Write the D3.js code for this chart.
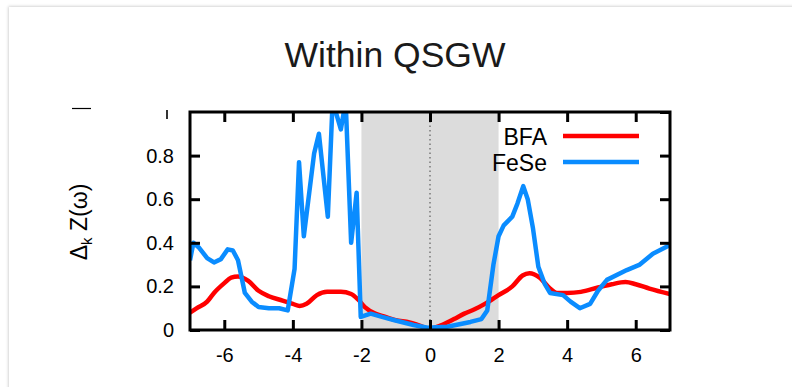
<!DOCTYPE html>
<html><head><meta charset="utf-8">
<script src="https://cdn.jsdelivr.net/npm/d3@7"></script>
<style>html,body{margin:0;padding:0;background:#fff;}svg{display:block;}</style>
</head><body>
<script>
// ---- data ----
const title = "Within QSGW";
const seriesNames = ["BFA", "FeSe"];
const seriesColors = ["#ff0000", "#0a8cff"];
const bfaX = [-7,-6.8,-6.5,-6.3,-6,-5.8,-5.6,-5.3,-5,-4.7,-4.3,-4,-3.8,-3.6,-3.3,-3,-2.6,-2.3,-2.1,-1.9,-1.6,-1.3,-1,-0.6,-0.3,0,0.3,0.7,1,1.3,1.6,2,2.4,2.7,2.9,3.2,3.5,3.7,4,4.4,4.9,5.3,5.7,6,6.4,7];
const bfaY = [0.08,0.10,0.13,0.17,0.215,0.24,0.245,0.225,0.18,0.155,0.135,0.12,0.11,0.12,0.16,0.175,0.175,0.165,0.14,0.105,0.075,0.06,0.045,0.035,0.02,0.005,0.02,0.05,0.075,0.095,0.12,0.16,0.2,0.25,0.26,0.24,0.19,0.17,0.17,0.175,0.195,0.21,0.22,0.21,0.19,0.165];
const feseX = [-7,-6.9,-6.75,-6.5,-6.3,-6.1,-5.9,-5.75,-5.6,-5.4,-5.2,-5.0,-4.7,-4.4,-4.15,-3.95,-3.82,-3.68,-3.38,-3.24,-2.98,-2.84,-2.6,-2.46,-2.3,-2.14,-2.02,-1.73,-1.4,-1.06,-0.48,-0.07,0.5,1.18,1.5,1.67,1.85,2.0,2.15,2.4,2.55,2.72,2.85,3.0,3.16,3.35,3.5,3.88,4.1,4.37,4.67,4.9,5.16,5.74,6.12,6.5,7];
const feseY = [0.32,0.40,0.38,0.33,0.31,0.325,0.37,0.365,0.32,0.17,0.13,0.105,0.10,0.10,0.09,0.28,0.77,0.43,0.81,0.90,0.52,1.05,0.92,1.05,0.40,0.63,0.06,0.075,0.06,0.046,0.023,0.01,0.015,0.037,0.05,0.09,0.30,0.43,0.48,0.52,0.58,0.66,0.60,0.47,0.29,0.21,0.17,0.16,0.13,0.10,0.12,0.18,0.23,0.275,0.30,0.35,0.39];
const xTicks = [-6,-4,-2,0,2,4,6];
const yTicks = [0,0.2,0.4,0.6,0.8,1];
const yTickLabels = ["0","0.2","0.4","0.6","0.8","1"];
const shadeRange = [-2, 2];

const W = 792, H = 387;
const svg = d3.select("body").append("svg").attr("width", W).attr("height", H);
const defs = svg.append("defs");
const f = defs.append("filter").attr("id","sh").attr("x","-5%").attr("y","-5%").attr("width","110%").attr("height","110%");
f.append("feDropShadow").attr("dx",-0.5).attr("dy",-0.5).attr("stdDeviation",1.6).attr("flood-color","#000").attr("flood-opacity",0.22);

// card
svg.append("rect").attr("x",9).attr("y",7).attr("width",W+20).attr("height",H+20)
  .attr("fill","#fff").attr("filter","url(#sh)");

const x = d3.scaleLinear().domain([-7,7]).range([190,670]);
const y = d3.scaleLinear().domain([0,1]).range([330,112]);

defs.append("clipPath").attr("id","clip").append("rect")
  .attr("x",x(-7)).attr("y",y(1)).attr("width",x(7)-x(-7)).attr("height",y(0)-y(1));

// title
svg.append("text").attr("x",395).attr("y",67).attr("text-anchor","middle")
  .attr("font-family","Liberation Sans, Arial, sans-serif").attr("font-size",35.5)
  .attr("fill","#1a1a1a").text(title);

// shaded region
svg.append("rect").attr("x",x(shadeRange[0])).attr("y",y(1))
  .attr("width",x(shadeRange[1])-x(shadeRange[0])).attr("height",y(0)-y(1)).attr("fill","#dcdcdc");
// dotted zero line
svg.append("line").attr("x1",x(0)).attr("x2",x(0)).attr("y1",y(1)).attr("y2",y(0))
  .attr("stroke","#777").attr("stroke-width",1.5).attr("stroke-dasharray","1.5,3");

// lines
const g = svg.append("g").attr("clip-path","url(#clip)");
const bfa = bfaX.map((v,i)=>[v,bfaY[i]]);
const fese = feseX.map((v,i)=>[v,feseY[i]]);
g.append("path").datum(bfa).attr("d",d3.line().x(d=>x(d[0])).y(d=>y(d[1])).curve(d3.curveMonotoneX)).attr("fill","none")
  .attr("stroke",seriesColors[0]).attr("stroke-width",4.5).attr("stroke-linejoin","round");
g.append("path").datum(fese).attr("d",d3.line().x(d=>x(d[0])).y(d=>y(d[1]))).attr("fill","none")
  .attr("stroke",seriesColors[1]).attr("stroke-width",4.5).attr("stroke-linejoin","round");

// axes (inward ticks, mirrored)
const font = "Liberation Sans, Arial, sans-serif";
const axB = svg.append("g").attr("transform",`translate(0,${y(0)})`)
  .call(d3.axisBottom(x).tickValues(xTicks).tickSize(-10).tickPadding(22).tickFormat(d3.format("d")));
const axT = svg.append("g").attr("transform",`translate(0,${y(1)})`)
  .call(d3.axisTop(x).tickValues(xTicks).tickSize(-10).tickFormat(""));
const axL = svg.append("g").attr("transform",`translate(${x(-7)},0)`)
  .call(d3.axisLeft(y).tickValues(yTicks).tickSize(-10).tickPadding(16).tickFormat((d,i)=>yTickLabels[i]));
const axR = svg.append("g").attr("transform",`translate(${x(7)},0)`)
  .call(d3.axisRight(y).tickValues(yTicks).tickSize(-10).tickFormat(""));
[axB,axT,axL,axR].forEach(a=>{
  a.select(".domain").remove();
  a.selectAll(".tick line").attr("stroke","#000").attr("stroke-width",3);
  a.selectAll("text").attr("font-family",font).attr("font-size",20).attr("fill","#000");
});
axB.selectAll(".tick text").attr("dy","0.71em").attr("y",18)
  .text(d=> d<0 ? "-"+Math.abs(d) : String(d));
// the "1" label is cut off at the top in the reference
axL.selectAll(".tick").filter(d=>d===1).remove();
svg.append("line").attr("x1",167).attr("x2",167).attr("y1",110).attr("y2",119).attr("stroke","#000").attr("stroke-width",1.6);
svg.append("line").attr("x1",72).attr("x2",91).attr("y1",108.5).attr("y2",108.5).attr("stroke","#000").attr("stroke-width",1.2);

// frame
svg.append("rect").attr("x",x(-7)).attr("y",y(1)).attr("width",x(7)-x(-7)).attr("height",y(0)-y(1))
  .attr("fill","none").attr("stroke","#000").attr("stroke-width",3);

// y label
const yl = svg.append("text").attr("transform","translate(87,222) rotate(-90)").attr("text-anchor","middle")
  .attr("font-family",font).attr("font-size",23).attr("fill","#000");
yl.append("tspan").text("Δ");
yl.append("tspan").attr("font-size",15).attr("dy",5).text("k");
yl.append("tspan").attr("dy",-5).text(" Z(ω)");

// legend
const leg = svg.append("g");
seriesNames.forEach((n,i)=>{
  const yy = 136 + i*26;
  leg.append("text").attr("x",547).attr("y",yy+9).attr("text-anchor","end")
    .attr("font-family",font).attr("font-size",23).attr("fill","#000").text(n);
  leg.append("line").attr("x1",563).attr("x2",639).attr("y1",yy).attr("y2",yy)
    .attr("stroke",seriesColors[i]).attr("stroke-width",4.5);
});
</script>
</body></html>
